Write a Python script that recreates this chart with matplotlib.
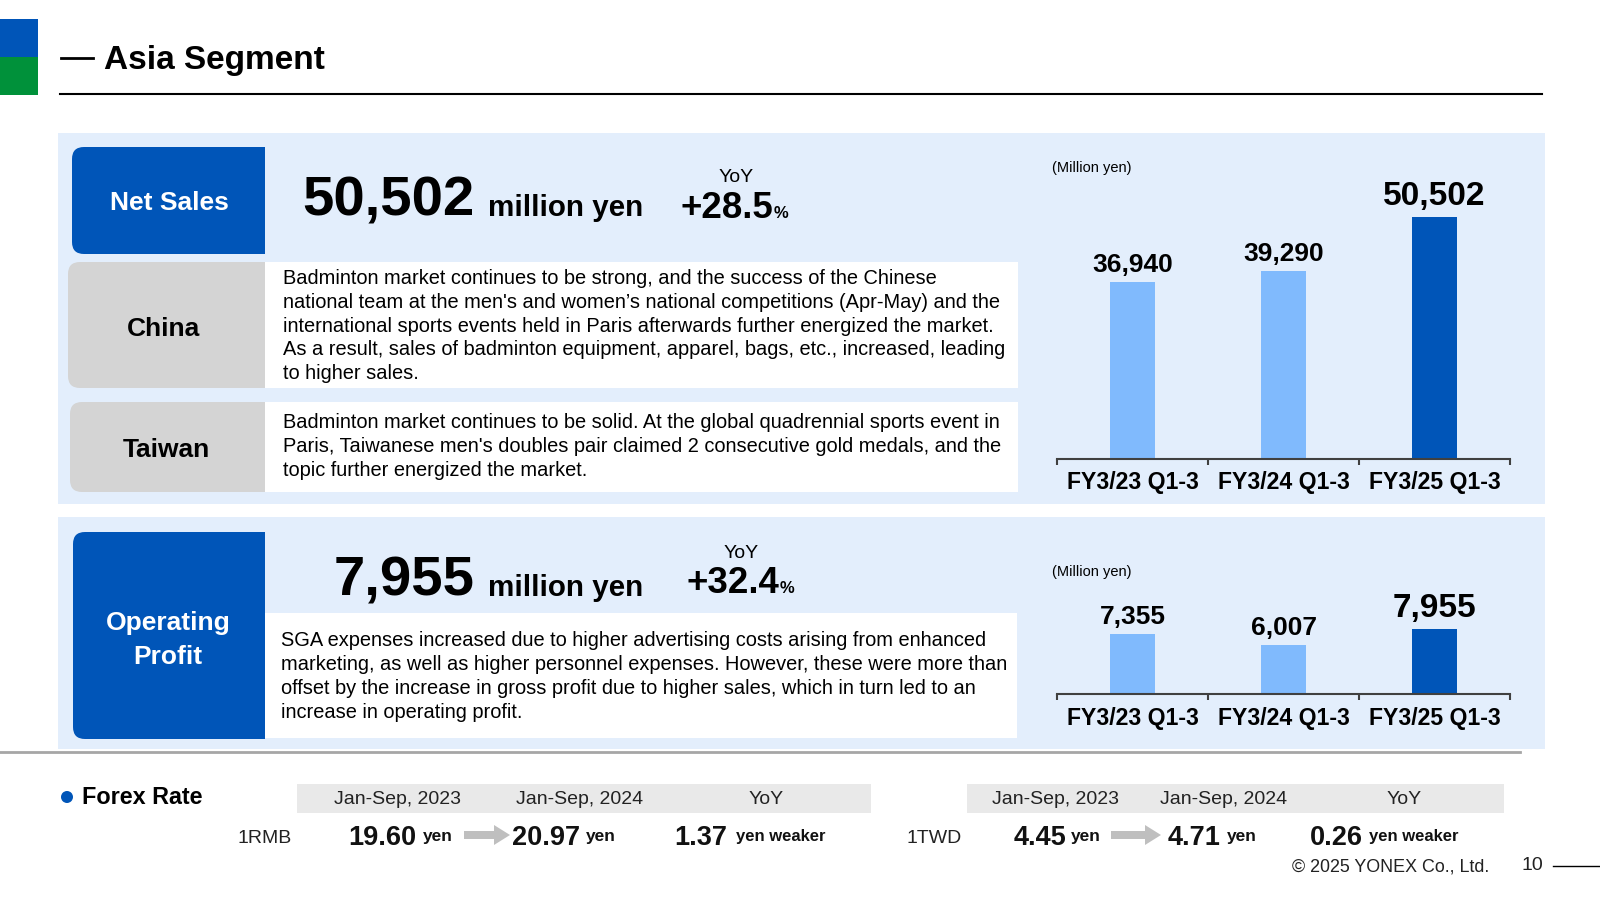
import numpy as np
import matplotlib.pyplot as plt
from matplotlib.patches import Rectangle, FancyBboxPatch, FancyArrow, Circle

plt.rcParams['font.family'] = ['Liberation Sans', 'DejaVu Sans']

# Dados ------------
periodos = ["FY3/23 Q1-3", "FY3/24 Q1-3", "FY3/25 Q1-3"]
vendas = [36940, 39290, 50502]
lucro_op = [7355, 6007, 7955]

vendas_atual = "50,502"
vendas_yoy = "+28.5"
lucro_atual = "7,955"
lucro_yoy = "+32.4"

texto_china = [
    "Badminton market continues to be strong, and the success of the Chinese",
    "national team at the men's and women\u2019s national competitions (Apr-May) and the",
    "international sports events held in Paris afterwards further energized the market.",
    "As a result, sales of badminton equipment, apparel, bags, etc., increased, leading",
    "to higher sales.",
]
texto_taiwan = [
    "Badminton market continues to be solid. At the global quadrennial sports event in",
    "Paris, Taiwanese men's doubles pair claimed 2 consecutive gold medals, and the",
    "topic further energized the market.",
]
texto_lucro = [
    "SGA expenses increased due to higher advertising costs arising from enhanced",
    "marketing, as well as higher personnel expenses. However, these were more than",
    "offset by the increase in gross profit due to higher sales, which in turn led to an",
    "increase in operating profit.",
]

fx_colunas = ["Jan-Sep, 2023", "Jan-Sep, 2024", "YoY"]
rmb = [19.60, 20.97]
twd = [4.45, 4.71]
# ----------------------

AZUL = "#0055B8"
AZUL_CLARO = "#80BAFD"
VERDE = "#00913A"
FUNDO = "#E3EEFC"
CINZA = "#D4D4D4"

fig = plt.figure(figsize=(16, 9), dpi=100)
ax = fig.add_axes([0, 0, 1, 1])
ax.set_xlim(0, 1600)
ax.set_ylim(900, 0)
ax.axis("off")


def caixa_esq_arredondada(x0, y0, x1, y1, cor, r=12):
    ax.add_patch(FancyBboxPatch((x0, y0), x1 - x0, y1 - y0,
                                boxstyle=f"round,pad=0,rounding_size={r}", fc=cor, ec="none"))
    ax.add_patch(Rectangle(((x0 + x1) / 2, y0), (x1 - x0) / 2, y1 - y0, fc=cor, ec="none"))


# Cabeçalho -----------
ax.add_patch(Rectangle((0, 19), 38, 38, fc=AZUL, ec="none"))
ax.add_patch(Rectangle((0, 57), 38, 38, fc=VERDE, ec="none"))
ax.plot([61, 93], [58, 58], color="black", lw=2)
ax.text(104, 61, "Asia Segment", fontsize=24, fontweight="bold", va="center", ha="left")
ax.plot([60, 1542], [94, 94], color="black", lw=1.5)

# Painéis de fundo
ax.add_patch(Rectangle((58, 133), 1487, 371, fc=FUNDO, ec="none"))
ax.add_patch(Rectangle((58, 517), 1487, 232, fc=FUNDO, ec="none"))

# Net Sales -----------
caixa_esq_arredondada(72, 147, 265, 254, AZUL)
ax.text(169, 203, "Net Sales", color="white", fontsize=19, fontweight="bold", ha="center", va="center")
ax.text(475, 216, vendas_atual, fontsize=40.5, fontweight="bold", ha="right", va="baseline")
ax.text(488, 216, "million yen", fontsize=21.3, fontweight="bold", ha="left", va="baseline")
ax.text(736, 178, "YoY", fontsize=14, ha="center", va="center")
ax.text(773, 218, vendas_yoy, fontsize=26.5, fontweight="bold", ha="right", va="baseline")
ax.text(774, 218, "%", fontsize=12, fontweight="bold", ha="left", va="baseline")

# China / Taiwan
caixa_esq_arredondada(68, 262, 265, 388, CINZA)
ax.add_patch(Rectangle((265, 262), 753, 126, fc="white", ec="none"))
ax.text(164, 329, "China", fontsize=19, fontweight="bold", ha="center", va="center")
for i, linha in enumerate(texto_china):
    ax.text(283, 279 + i * 23.6, linha, fontsize=14.4, ha="left", va="center")

caixa_esq_arredondada(70, 402, 265, 492, CINZA)
ax.add_patch(Rectangle((265, 402), 753, 90, fc="white", ec="none"))
ax.text(166, 450, "Taiwan", fontsize=19, fontweight="bold", ha="center", va="center")
for i, linha in enumerate(texto_taiwan):
    ax.text(283, 423 + i * 23.6, linha, fontsize=14.4, ha="left", va="center")

# Operating Profit -----------
caixa_esq_arredondada(73, 532, 265, 739, AZUL)
ax.text(168, 640, "Operating\nProfit", color="white", fontsize=19, fontweight="bold",
        ha="center", va="center", linespacing=1.5)
ax.text(475, 596, lucro_atual, fontsize=40.5, fontweight="bold", ha="right", va="baseline")
ax.text(488, 596, "million yen", fontsize=21.3, fontweight="bold", ha="left", va="baseline")
ax.text(741, 554, "YoY", fontsize=14, ha="center", va="center")
ax.text(779, 593, lucro_yoy, fontsize=26.5, fontweight="bold", ha="right", va="baseline")
ax.text(780, 593, "%", fontsize=12, fontweight="bold", ha="left", va="baseline")
ax.add_patch(Rectangle((265, 613), 752, 125, fc="white", ec="none"))
for i, linha in enumerate(texto_lucro):
    ax.text(281, 641 + i * 23.7, linha, fontsize=14.4, ha="left", va="center")


# Gráficos de barras -----------
def grafico(esq, topo, dir, base, valores, ymax):
    bax = fig.add_axes([esq / 1600, 1 - base / 900, (dir - esq) / 1600, (base - topo) / 900])
    x = np.arange(len(valores))
    cores = [AZUL_CLARO] * (len(valores) - 1) + [AZUL]
    bax.bar(x, valores, width=0.3, color=cores)
    bax.set_xlim(-0.5, len(valores) - 0.5)
    bax.set_ylim(0, ymax)
    bax.patch.set_alpha(0)
    for lado in ["top", "right", "left"]:
        bax.spines[lado].set_visible(False)
    bax.spines["bottom"].set_color("#404040")
    bax.spines["bottom"].set_linewidth(1.5)
    bax.set_yticks([])
    bax.set_xticks(x, periodos, fontsize=16.6, fontweight="bold")
    bax.tick_params(axis="x", which="major", length=0, pad=9)
    bax.set_xticks(np.arange(len(valores) + 1) - 0.5, minor=True)
    bax.tick_params(axis="x", which="minor", length=4.5, width=1.5, color="#404040", direction="out")
    for i, v in enumerate(valores):
        grande = i == len(valores) - 1
        bax.annotate(f"{v:,}", (i, v), xytext=(0, 9 if grande else 7), textcoords="offset points",
                     ha="center", va="baseline", fontsize=24 if grande else 19, fontweight="bold")
    return bax


ax.text(1052, 168, "(Million yen)", fontsize=10.5, ha="left", va="center")
grafico(1057, 160, 1510, 459, vendas, 62400)
ax.text(1052, 572, "(Million yen)", fontsize=10.5, ha="left", va="center")
grafico(1057, 580, 1510, 694, lucro_op, 13965)

# Linha separadora
ax.plot([0, 1520], [752, 752], color="#A6A6A6", lw=2)

# Forex Rate -----------
ax.add_patch(Circle((67, 797), 6, fc=AZUL, ec="none"))
ax.text(82, 797, "Forex Rate", fontsize=16.8, fontweight="bold", ha="left", va="center")


def tabela_fx(x0, x1, centros, moeda, x_moeda, taxas, pos):
    ax.add_patch(Rectangle((x0, 784), x1 - x0, 29, fc="#E9E9E9", ec="none"))
    for c, t in zip(centros, fx_colunas):
        ax.text(c, 799, t, fontsize=14, ha="center", va="center", color="#222222")
    ax.text(x_moeda, 843, moeda, fontsize=14, ha="center", va="baseline", color="#222222")
    (r1, u1), (ax0, ax1), (r2, u2), (r3, u3) = pos
    ax.text(r1, 845, f"{taxas[0]:.2f}", fontsize=19.5, fontweight="bold", ha="right", va="baseline", color="#111111")
    ax.text(u1, 841, "yen", fontsize=12.5, fontweight="bold", ha="left", va="baseline", color="#111111")
    ax.add_patch(FancyArrow(ax0, 835, ax1 - ax0 - 16, 0, width=8, head_width=20, head_length=16,
                            fc="#BFBFBF", ec="none", length_includes_head=False))
    ax.text(r2, 845, f"{taxas[1]:.2f}", fontsize=19.5, fontweight="bold", ha="right", va="baseline", color="#111111")
    ax.text(u2, 841, "yen", fontsize=12.5, fontweight="bold", ha="left", va="baseline", color="#111111")
    ax.text(r3, 845, f"{taxas[1] - taxas[0]:.2f}", fontsize=19.5, fontweight="bold", ha="right", va="baseline", color="#111111")
    ax.text(u3, 841, "yen weaker", fontsize=12, fontweight="bold", ha="left", va="baseline", color="#111111")


tabela_fx(297, 871, [398, 580, 766], "1RMB", 265, rmb,
          [(416, 423), (464, 510), (580, 586), (727, 736)])
tabela_fx(967, 1504, [1056, 1224, 1404], "1TWD", 934, twd,
          [(1066, 1071), (1111, 1161), (1221, 1227), (1363, 1369)])

# Rodapé
ax.text(1489, 867, "\u00a9 2025 YONEX Co., Ltd.", fontsize=12.9, ha="right", va="center", color="#222222")
ax.text(1532, 866, "10", fontsize=14, ha="center", va="center", color="#222222")
ax.plot([1553, 1600], [866, 866], color="black", lw=1)

fig.savefig("out.png", dpi=100)
